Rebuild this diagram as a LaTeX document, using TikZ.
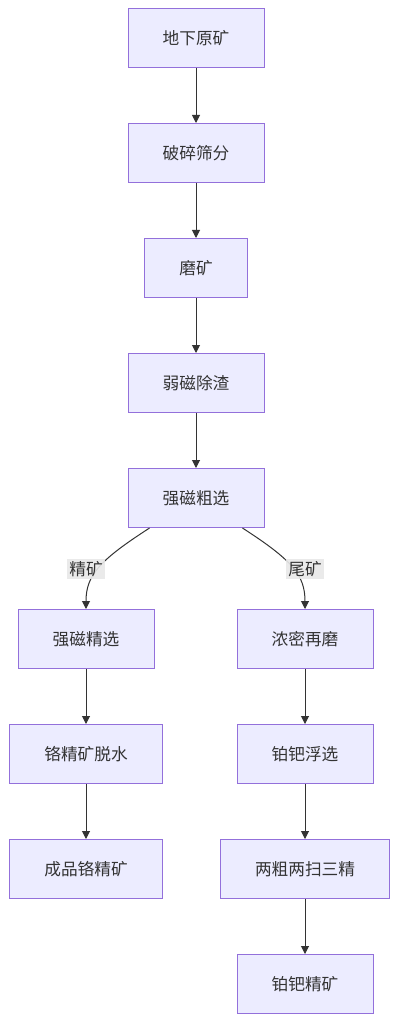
\documentclass[tikz,border=0pt]{standalone}
\usepackage{fontspec}
\setmainfont{Noto Sans CJK SC}
\usepackage{tikz}
\usetikzlibrary{arrows.meta}
\definecolor{boxfill}{HTML}{ECECFF}
\definecolor{boxline}{HTML}{9370DB}
\definecolor{inkgray}{HTML}{333333}
\definecolor{tagfill}{HTML}{E8E8E8}

\begin{document}
\begin{tikzpicture}[
    x=0.75pt, y=-0.75pt,
    every node/.style={font=\fontsize{12.5}{15}\selectfont, text=inkgray},
    stagebox/.style={rectangle, draw=boxline, fill=boxfill, line width=0.75pt, minimum height=44.25pt, inner xsep=26pt},
    flow/.style={draw=inkgray, line width=0.75pt, -{Triangle[length=6pt, width=6pt]}},
    tag/.style={fill=tagfill, fill opacity=0.9, text opacity=1, inner sep=1.5pt}
]
\useasboundingbox (0,0) rectangle (400,1023);

\node[stagebox] (ore) at (196,38) {地下原矿};
\node[stagebox] (crush) at (196,153) {破碎筛分};
\node[stagebox] (grind) at (196,268) {磨矿};
\node[stagebox] (weak) at (196,383) {弱磁除渣};
\node[stagebox] (rough) at (196,498) {强磁粗选};
\node[stagebox] (clean) at (86,639) {强磁精选};
\node[stagebox] (thick) at (305,639) {浓密再磨};
\node[stagebox] (dewater) at (86,754) {铬精矿脱水};
\node[stagebox] (float) at (305,754) {铂钯浮选};
\node[stagebox] (crprod) at (86,869) {成品铬精矿};
\node[stagebox] (circuit) at (305,869) {两粗两扫三精};
\node[stagebox] (pgm) at (305,984) {铂钯精矿};

\draw[flow] (ore) -- (crush);
\draw[flow] (crush) -- (grind);
\draw[flow] (grind) -- (weak);
\draw[flow] (weak) -- (rough);
\draw[flow] (rough) .. controls (100,560) and (86,575) .. (clean.north);
\draw[flow] (rough) .. controls (292,560) and (305,575) .. (thick.north);
\draw[flow] (clean) -- (dewater);
\draw[flow] (dewater) -- (crprod);
\draw[flow] (thick) -- (float);
\draw[flow] (float) -- (circuit);
\draw[flow] (circuit) -- (pgm);

\node[tag] (conc) at (86,569) {精矿};
\node[tag] (tail) at (305,569) {尾矿};
\end{tikzpicture}
\end{document}
